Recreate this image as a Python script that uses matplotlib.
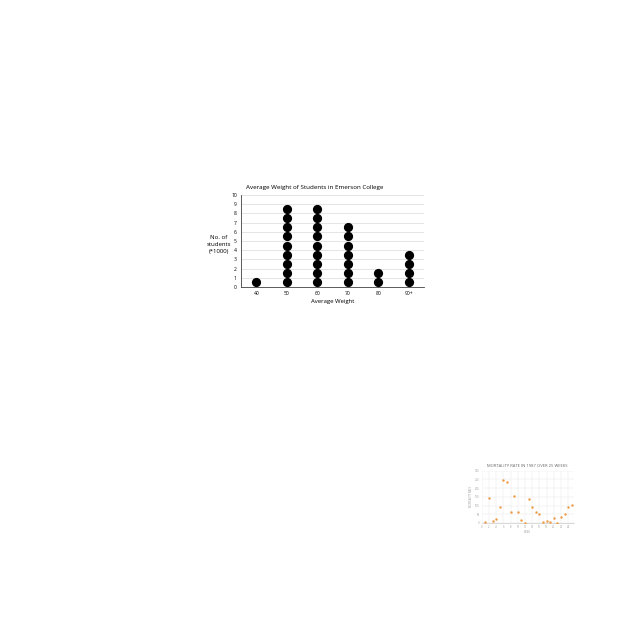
import matplotlib
matplotlib.use("Agg")
import matplotlib.pyplot as plt
import numpy as np

plt.rcParams['font.family'] = ['Open Sans', 'DejaVu Sans']

# Main dot plot data
categories = ["40", "50", "60", "70", "80", "90+"]
counts = [1, 9, 9, 7, 2, 4]
y_ticks = list(range(0, 11))

# Small mortality chart data
weeks = list(range(1, 26))
mortality = [8, 144, 12, 25, 90, 244, 235, 63, 154, 65, 17, 0, 138, 94, 65, 54,
             6, 10, 6, 31, 2, 37, 52, 94, 104]
week_ticks = list(range(0, 25, 2))
mort_ticks = [0, 50, 100, 150, 200, 250, 300]

fig = plt.figure(figsize=(6.4, 6.4), dpi=100)
fig.patch.set_facecolor("white")

# ---- main chart ----
ax = fig.add_axes([241/640, 1-287/640, 183/640, 92/640])
xs, ys = [], []
for i, c in enumerate(counts):
    for k in range(c):
        xs.append(i)
        ys.append(k + 0.5)
ax.scatter(xs, ys, s=44, color="black", zorder=3, linewidths=0)
ax.set_xlim(-0.5, len(categories) - 0.5)
ax.set_ylim(0, 10)
ax.set_yticks(y_ticks)
ax.set_yticklabels([str(v) for v in y_ticks], fontsize=3.6)
ax.set_xticks(range(len(categories)))
ax.set_xticklabels(categories, fontsize=3.6)
ax.tick_params(length=0, pad=3)
ax.grid(axis="y", color="#d9d9d9", linewidth=0.5, zorder=0)
ax.set_axisbelow(True)
for s in ["top", "right"]:
    ax.spines[s].set_visible(False)
ax.spines["left"].set_linewidth(0.6)
ax.spines["bottom"].set_linewidth(0.6)
ax.spines["left"].set_color("#404040")
ax.spines["bottom"].set_color("#404040")
ax.set_xlabel("Average Weight", fontsize=4.3, labelpad=2)
ax.set_ylabel("No. of\nstudents\n(*1000)", fontsize=4.3, rotation=0,
              ha="center", va="center", linespacing=1.45)
ax.yaxis.set_label_coords(-0.12, 0.465)
ax.set_title("Average Weight of Students in Emerson College", fontsize=4.5,
             loc="left", x=0.025, pad=4)

# ---- small chart ----
ax2 = fig.add_axes([481.7/640, 1-523/640, 92/640, 52.3/640])
ax2.scatter(weeks, mortality, s=3.0, color="#ee9a45", zorder=3, linewidths=0)
ax2.set_xlim(0, 25.5)
ax2.set_ylim(0, 300)
ax2.set_xticks(week_ticks)
ax2.set_xticklabels([str(v) for v in week_ticks], fontsize=1.9, color="#999999")
ax2.set_yticks(mort_ticks)
ax2.set_yticklabels([str(v) for v in mort_ticks], fontsize=1.9, color="#999999")
ax2.tick_params(length=0, pad=1.5)
ax2.grid(color="#e6e6e6", linewidth=0.3, zorder=0)
ax2.set_axisbelow(True)
for s in ["top", "right", "left"]:
    ax2.spines[s].set_visible(False)
ax2.spines["bottom"].set_color("#bbbbbb")
ax2.spines["bottom"].set_linewidth(0.4)
ax2.set_title("MORTALITY RATE IN 1987 OVER 25 WEEKS", fontsize=3.0,
              color="#666666", pad=2.5)
ax2.set_xlabel("WEEK", fontsize=1.9, color="#999999", labelpad=1)
ax2.set_ylabel("MORTALITY RATE", fontsize=1.9, color="#999999", labelpad=1.5)

fig.savefig("out.png", dpi=100, facecolor="white")
